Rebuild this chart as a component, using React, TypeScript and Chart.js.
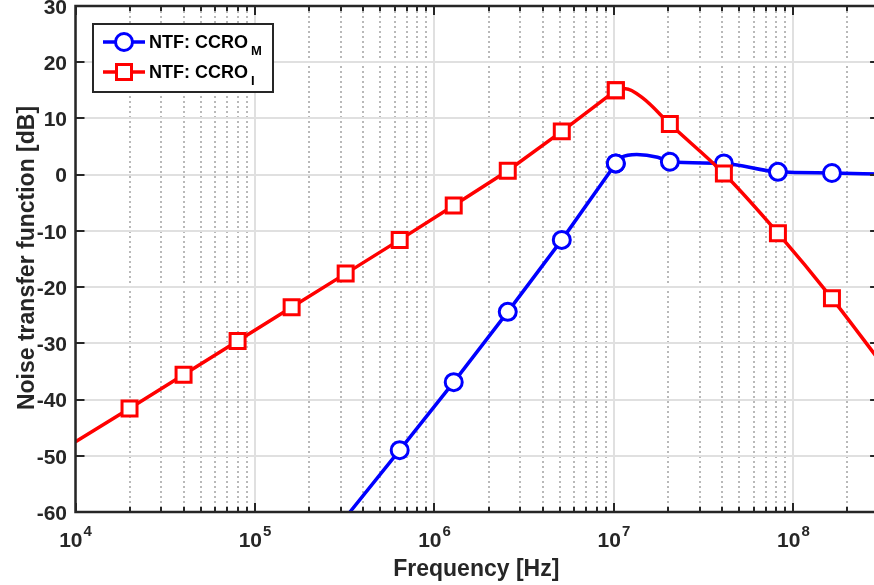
import { useEffect, useRef } from "react";
import { Chart, registerables } from "chart.js";

Chart.register(...registerables);

const FONT = '"Liberation Sans", Arial, Helvetica, sans-serif';
const AXIS_COLOR = "#262626";

// ---- data (frequency in Hz, NTF in dB) ----
// CCRO_M: rising branch (straight on log axis) and top branch (smooth)
const ccroMRiseFreq = [3.38e5, 6.4e5, 1.28e6, 2.56e6, 5.12e6, 1.024e7];
const ccroMRiseNtf = [-60, -49.0, -36.9, -24.4, -11.6, 2.0];
const ccroMRiseMarker = [false, true, true, true, true, true];
const ccroMTopFreq = [1.024e7, 1.1e7, 1.34e7, 1.75e7, 2.048e7, 4.096e7, 8.192e7, 1.6384e8, 3e8];
const ccroMTopNtf = [2.0, 3.1, 3.6, 3.1, 2.3, 2.0, 0.5, 0.3, 0.1];
const ccroMTopMarker = [true, false, false, false, true, true, true, true, false];

// CCRO_I: rising branch and falling branch
const ccroIRiseFreq = [1e4, 2e4, 4e4, 8e4, 1.6e5, 3.2e5, 6.4e5, 1.28e6, 2.56e6, 5.12e6, 1.024e7];
const ccroIRiseNtf = [-47.5, -41.6, -35.6, -29.6, -23.6, -17.6, -11.6, -5.5, 0.7, 7.7, 15.0];
const ccroIRiseMarker = [false, true, true, true, true, true, true, true, true, true, true];
const ccroIFallFreq = [1.024e7, 1.16e7, 1.45e7, 2.048e7, 4.096e7, 8.192e7, 1.6384e8, 3e8];
const ccroIFallNtf = [15.0, 15.3, 13.6, 9.0, 0.2, -10.4, -22.0, -33.0];
const ccroIFallMarker = [true, false, false, true, true, true, true, false];

// ---- axes ----
const xMin = 1e4;
const xMax = 3e8;
const yMin = -60;
const yMax = 30;
const yTicks = [-60, -50, -40, -30, -20, -10, 0, 10, 20, 30];
const xDecades = [1e4, 1e5, 1e6, 1e7, 1e8];
const xDecadeExp = ["4", "5", "6", "7", "8"];
const xTitle = "Frequency [Hz]";
const yTitle = "Noise transfer function [dB]";

const BLUE = "#0000ff";
const RED = "#ff0000";

const legendItems = [
  { main: "NTF: CCRO", sub: "M", color: BLUE, style: "circle" },
  { main: "NTF: CCRO", sub: "I", color: RED, style: "rect" },
];

const CANVAS_W = 900;
const CANVAS_H = 585;

function drawMarker(ctx: CanvasRenderingContext2D, style: string, cx: number, cy: number, color: string) {
  ctx.save();
  ctx.lineWidth = 3;
  ctx.strokeStyle = color;
  ctx.fillStyle = "#ffffff";
  ctx.beginPath();
  if (style === "circle") {
    ctx.arc(cx, cy, 8.5, 0, Math.PI * 2);
  } else {
    ctx.rect(cx - 7.5, cy - 7.5, 15, 15);
  }
  ctx.fill();
  ctx.stroke();
  ctx.restore();
}

const decorPlugin = {
  id: "decor",
  beforeDatasetsDraw(chart: any) {
    const { ctx, chartArea: a, scales } = chart;
    const x = scales.x;
    const y = scales.y;
    ctx.save();
    // minor x grid (dotted)
    ctx.strokeStyle = "#b9b9b9";
    ctx.lineWidth = 2;
    ctx.setLineDash([2, 3]);
    for (const d of xDecades) {
      for (let m = 2; m <= 9; m++) {
        const v = m * d;
        if (v > xMax) break;
        const px = Math.round(x.getPixelForValue(v));
        ctx.beginPath();
        ctx.moveTo(px, a.top);
        ctx.lineTo(px, a.bottom);
        ctx.stroke();
      }
    }
    ctx.setLineDash([]);
    // major grid (solid, light)
    ctx.strokeStyle = "#e0e0e0";
    ctx.lineWidth = 2;
    for (const d of xDecades) {
      const px = Math.round(x.getPixelForValue(d));
      ctx.beginPath();
      ctx.moveTo(px, a.top);
      ctx.lineTo(px, a.bottom);
      ctx.stroke();
    }
    for (const t of yTicks) {
      const py = Math.round(y.getPixelForValue(t));
      ctx.beginPath();
      ctx.moveTo(a.left, py);
      ctx.lineTo(a.right, py);
      ctx.stroke();
    }
    ctx.restore();
  },
  afterDatasetsDraw(chart: any) {
    const { ctx, chartArea: a, scales } = chart;
    const x = scales.x;
    const y = scales.y;
    ctx.save();
    ctx.strokeStyle = AXIS_COLOR;
    ctx.fillStyle = AXIS_COLOR;
    // frame
    ctx.lineWidth = 2.5;
    ctx.strokeRect(a.left, a.top, a.right - a.left, a.bottom - a.top);
    // ticks
    ctx.lineWidth = 2;
    const tickLine = (x1: number, y1: number, x2: number, y2: number) => {
      ctx.beginPath();
      ctx.moveTo(x1, y1);
      ctx.lineTo(x2, y2);
      ctx.stroke();
    };
    for (const t of yTicks) {
      const py = Math.round(y.getPixelForValue(t));
      tickLine(a.left, py, a.left + 9, py);
      tickLine(a.right, py, a.right - 9, py);
    }
    for (const d of xDecades) {
      const px = Math.round(x.getPixelForValue(d));
      tickLine(px, a.bottom, px, a.bottom - 9);
      tickLine(px, a.top, px, a.top + 9);
      for (let m = 2; m <= 9; m++) {
        const v = m * d;
        if (v > xMax) break;
        const pm = Math.round(x.getPixelForValue(v));
        tickLine(pm, a.bottom, pm, a.bottom - 5);
        tickLine(pm, a.top, pm, a.top + 5);
      }
    }
    // y tick labels
    ctx.font = `bold 21px ${FONT}`;
    ctx.textAlign = "right";
    ctx.textBaseline = "middle";
    for (const t of yTicks) {
      const py = y.getPixelForValue(t);
      ctx.fillText(String(t), 67, py + 2);
    }
    // x tick labels (10^n)
    ctx.textBaseline = "alphabetic";
    ctx.textAlign = "left";
    xDecades.forEach((d, i) => {
      const px = x.getPixelForValue(d);
      ctx.font = `bold 21px ${FONT}`;
      const wBase = ctx.measureText("10").width;
      ctx.font = `bold 15px ${FONT}`;
      const wExp = ctx.measureText(xDecadeExp[i]).width;
      const start = px - (wBase + wExp + 1) / 2;
      ctx.font = `bold 21px ${FONT}`;
      ctx.fillText("10", start, 547);
      ctx.font = `bold 15px ${FONT}`;
      ctx.fillText(xDecadeExp[i], start + wBase + 1, 536);
    });
    // axis titles
    ctx.font = `bold 23px ${FONT}`;
    ctx.textAlign = "center";
    ctx.fillText(xTitle, (a.left + a.right) / 2 - 1, 576);
    ctx.save();
    ctx.translate(34, (a.top + a.bottom) / 2 - 1);
    ctx.rotate(-Math.PI / 2);
    ctx.fillText(yTitle, 0, 0);
    ctx.restore();

    // legend
    const bx = 93, by = 24, bw = 180, bh = 68;
    ctx.fillStyle = "#ffffff";
    ctx.fillRect(bx, by, bw, bh);
    ctx.strokeStyle = AXIS_COLOR;
    ctx.lineWidth = 2;
    ctx.strokeRect(bx, by, bw, bh);
    legendItems.forEach((it, i) => {
      const ly = 42 + i * 30;
      ctx.strokeStyle = it.color;
      ctx.lineWidth = 3.5;
      ctx.beginPath();
      ctx.moveTo(103, ly);
      ctx.lineTo(145, ly);
      ctx.stroke();
      drawMarker(ctx, it.style, 124, ly, it.color);
      ctx.fillStyle = "#000000";
      ctx.textAlign = "left";
      ctx.textBaseline = "alphabetic";
      ctx.font = `bold 18px ${FONT}`;
      ctx.fillText(it.main, 149, ly + 6);
      const w = ctx.measureText(it.main).width;
      ctx.font = `bold 13px ${FONT}`;
      ctx.fillText(it.sub, 149 + w + 3, ly + 13);
    });
    ctx.restore();
  },
};

function series(
  f: number[],
  v: number[],
  markers: boolean[],
  color: string,
  style: string,
  radius: number,
  smooth: boolean,
  order: number
) {
  return {
    data: f.map((fx, i) => ({ x: fx, y: v[i] })),
    borderColor: color,
    backgroundColor: "#ffffff",
    borderWidth: 3.5,
    pointStyle: style,
    pointRadius: markers.map((m) => (m ? radius : 0)),
    pointBorderWidth: 3,
    pointBorderColor: color,
    pointBackgroundColor: "#ffffff",
    tension: smooth ? 0.4 : 0,
    cubicInterpolationMode: smooth ? "monotone" : "default",
    fill: false,
    order,
  };
}

export default function App() {
  const canvasRef = useRef<HTMLCanvasElement | null>(null);

  useEffect(() => {
    document.body.style.margin = "0";
    const canvas = canvasRef.current;
    if (!canvas) return;
    const chart = new Chart(canvas, {
      type: "line",
      data: {
        datasets: [
          series(ccroMRiseFreq, ccroMRiseNtf, ccroMRiseMarker, BLUE, "circle", 8.5, false, 3),
          series(ccroMTopFreq, ccroMTopNtf, ccroMTopMarker, BLUE, "circle", 8.5, true, 2),
          series(ccroIRiseFreq, ccroIRiseNtf, ccroIRiseMarker, RED, "rect", 10.6, false, 1),
          series(ccroIFallFreq, ccroIFallNtf, ccroIFallMarker, RED, "rect", 10.6, true, 0),
        ],
      },
      options: {
        animation: false,
        responsive: false,
        devicePixelRatio: 1,
        events: [],
        layout: { autoPadding: false, padding: { top: 6, right: CANVAS_W - 879.1, left: 0, bottom: 0 } },
        plugins: { legend: { display: false }, tooltip: { enabled: false } },
        scales: {
          x: {
            type: "logarithmic",
            min: xMin,
            max: xMax,
            ticks: { display: false },
            grid: { display: false },
            border: { display: false },
            afterFit: (s: any) => {
              s.height = CANVAS_H - 512;
            },
          },
          y: {
            type: "linear",
            min: yMin,
            max: yMax,
            ticks: { display: false },
            grid: { display: false },
            border: { display: false },
            afterFit: (s: any) => {
              s.width = 75.5;
            },
          },
        },
      },
      plugins: [decorPlugin],
    } as any);
    return () => chart.destroy();
  }, []);

  return (
    <div style={{ position: "fixed", left: 0, top: 0, width: 874, height: 585, overflow: "hidden", background: "#ffffff" }}>
      <canvas ref={canvasRef} width={CANVAS_W} height={CANVAS_H} style={{ display: "block" }} />
    </div>
  );
}
